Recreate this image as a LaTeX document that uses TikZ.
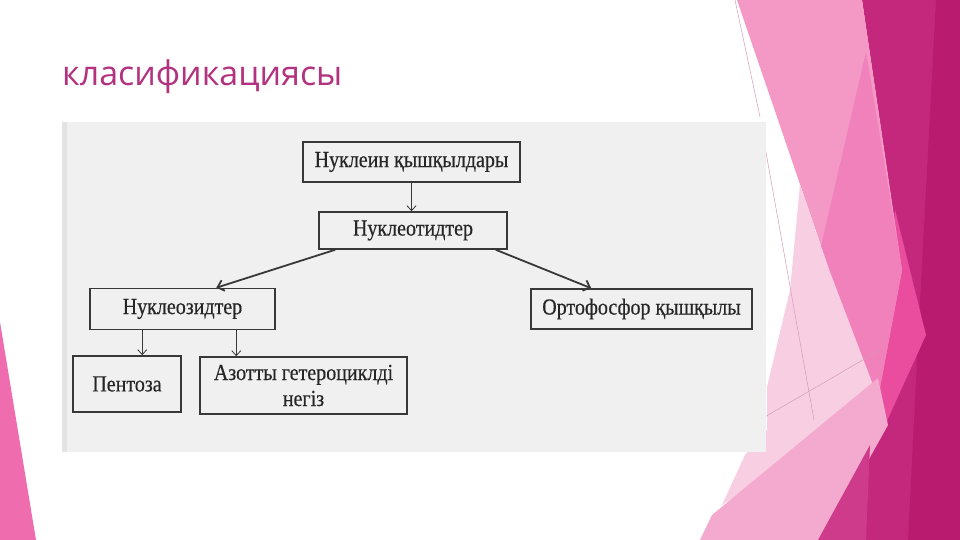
\documentclass[tikz,border=0pt]{standalone}
\usepackage{fontspec}
\setmainfont{Liberation Serif}
\newfontfamily\scanfont[FakeStretch=0.87,FakeBold=0.4]{Liberation Serif}
\newfontfamily\titlefont{Open Sans}
\usetikzlibrary{arrows.meta,calc}
\definecolor{magA}{HTML}{C4287D}
\definecolor{magD}{HTML}{B91B6F}
\definecolor{hotP}{HTML}{EB4D9E}
\definecolor{pinkA}{HTML}{F498C6}
\definecolor{pinkAA}{HTML}{F081BB}
\definecolor{lightB}{HTML}{F8CEE3}
\definecolor{bandC}{HTML}{F4A9CE}
\definecolor{magG}{HTML}{CE3B8A}
\definecolor{leftP}{HTML}{EF6DAF}
\definecolor{thinL}{HTML}{D49BB8}
\definecolor{scanbg}{HTML}{F1F0F0}
\definecolor{scanedge}{HTML}{E3E3E3}
\definecolor{titlec}{HTML}{B3327F}
\definecolor{boxline}{HTML}{383838}
\definecolor{boxtext}{HTML}{262626}
\begin{document}
\begin{tikzpicture}[x=1pt,y=-1pt,
  box/.style={draw=boxline, line width=1.5pt, inner sep=2pt, align=center,
    font=\scanfont\fontsize{23}{26}\selectfont, text=boxtext},
  thinarrow/.style={draw=boxline, line width=0.8pt, -{Straight Barb[length=5pt,width=9pt]}},
  thickarrow/.style={draw=boxline, line width=1.8pt, -{Straight Barb[length=6pt,width=11pt]}}]
\useasboundingbox (0,0) rectangle (960,540);
\fill[white] (0,0) rectangle (960,540);
% decorative shapes
\fill[magA] (862,0)--(960,0)--(960,540)--(812,540)--(872,430)--(906,300)--cycle;
\fill[magD] (936,0)--(960,0)--(960,540)--(908,540)--(918,340)--cycle;
\fill[hotP] (895,210)--(926,335)--(876,445)--(884,330)--cycle;
\fill[pinkA] (737,0)--(862,0)--(902,270)--(878,398)--(830,272)--cycle;
\fill[pinkAA] (866,52)--(902,270)--(878,398)--(816,268)--cycle;
\fill[lightB] (800,185)--(830,272)--(878,398)--(820,440)--(722,505)--(745,455)--(767,430)--(767,387)--(790,290)--cycle;
\fill[bandC] (712,515)--(878,378)--(888,425)--(824,540)--(700,540)--cycle;
\fill[magG] (818,540)--(870,445)--(866,540)--cycle;
\draw[thinL, line width=0.5pt] (735,0)--(760,117);
\draw[thinL, line width=0.5pt] (765,147)--(814,420);
\draw[thinL, line width=0.5pt] (763,418)--(880,350);
\fill[leftP] (0,322)--(36,540)--(0,540)--cycle;
% scan background
\fill[scanbg] (62,122) rectangle (766,452);
\fill[scanedge] (62,122) rectangle (67,452);
% title
\node[anchor=base west, inner sep=0pt, text=titlec, font=\titlefont\fontsize{34}{40}\selectfont] (title) at (62,86) {класификациясы};
% boxes
\node[box, minimum width=217pt, minimum height=40pt] (b1) at (411.5,162) {Нуклеин қышқылдары};
\node[box, minimum width=188pt, minimum height=37pt] (b2) at (413,230.5) {Нуклеотидтер};
\node[box, minimum width=185pt, minimum height=41pt] (b3) at (182.5,309) {Нуклеозидтер};
\node[box, minimum width=221pt, minimum height=40pt] (b4) at (641.5,309) {Ортофосфор қышқылы};
\node[box, minimum width=108pt, minimum height=56pt] (b5) at (127,384) {Пентоза};
\node[box, minimum width=207pt, minimum height=57pt] (b6) at (303.5,385.5) {Азотты гетероциклді\\негіз};
% connectors
\draw[thinarrow] (b1.south) -- (b1.south |- b2.north);
\coordinate (l1) at ($(b2.south west)+(17,0)$);
\coordinate (l2) at ($(b3.north west)+(127,0)$);
\draw[thickarrow] (l1) -- (l2);
\coordinate (r1) at ($(b2.south east)+(-12,0)$);
\coordinate (r2) at ($(b4.north west)+(61,0)$);
\draw[thickarrow] (r1) -- (r2);
\coordinate (p1) at ($(b3.south west)+(53,0)$);
\draw[thinarrow] (p1) -- (p1 |- b5.north);
\coordinate (a1) at ($(b3.south west)+(147,0)$);
\draw[thinarrow] (a1) -- (a1 |- b6.north);
\end{tikzpicture}
\end{document}
